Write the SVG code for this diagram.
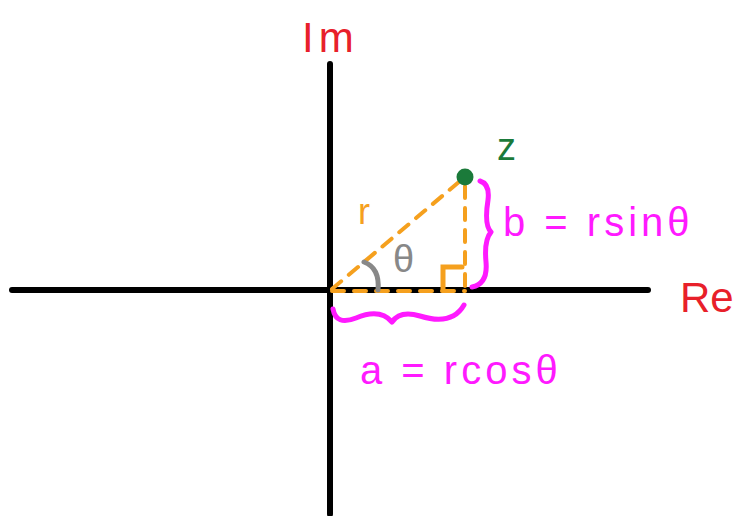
<svg xmlns="http://www.w3.org/2000/svg" width="738" height="516" viewBox="0 0 738 516">
<style>
.ax{stroke:#000;stroke-width:6;stroke-linecap:round;fill:none}
.or{stroke:#f5a01e;stroke-width:4;stroke-linecap:round;fill:none;stroke-dasharray:12 10}
.mg{stroke:#ff1aff;stroke-width:5;stroke-linecap:round;stroke-linejoin:round;fill:none}
.t{font-family:"Liberation Sans",Arial,sans-serif}
.pink{fill:#ff1aff;font-size:40px;letter-spacing:4px}
.red{fill:#e8202a;font-size:42px}
</style>
<rect width="738" height="516" fill="#fff"/>
<g id="axes">
<line class="ax" x1="330" y1="64" x2="330" y2="514"/>
<line class="ax" x1="12" y1="290" x2="648" y2="290"/>
</g>
<g id="connectors">
<line class="or" x1="332" y1="289" x2="460" y2="181"/>
<line class="or" x1="465" y1="186" x2="465" y2="289" stroke-dasharray="9 7"/>
<line class="or" x1="332" y1="291" x2="465" y2="291" stroke-width="5"/>
<path d="M443 289 L443 267 L462 267" stroke="#f5a01e" stroke-width="5" fill="none" stroke-linecap="round"/>
<path d="M364 262 Q380 268 378 290" stroke="#888" stroke-width="5" fill="none" stroke-linecap="round"/>
<path class="mg" d="M480 181 Q490 184 488 200 Q484 225 491 232 Q484 240 486 262 Q488 284 472 287"/>
<path class="mg" d="M333 309 Q336 326 356 318 Q380 308 392 322 Q400 310 420 316 Q452 326 464 305"/>
</g>
<g id="z">
<circle cx="465" cy="177" r="8.5" fill="#1b7a3a"/>
<text class="t" x="497" y="160" font-size="38" fill="#1b7a3a">z</text>
</g>
<g id="labels">
<text class="t" x="358" y="224" font-size="36" fill="#f5a01e">r</text>
<text class="t" x="393" y="272" font-size="38" fill="#888">θ</text>
<text class="t pink" x="503" y="236">b = rsinθ</text>
<text class="t pink" x="360" y="384">a = rcosθ</text>
<text class="t red" x="302" y="52" letter-spacing="5">Im</text>
<text class="t red" x="680" y="312">Re</text>
</g>
</svg>
